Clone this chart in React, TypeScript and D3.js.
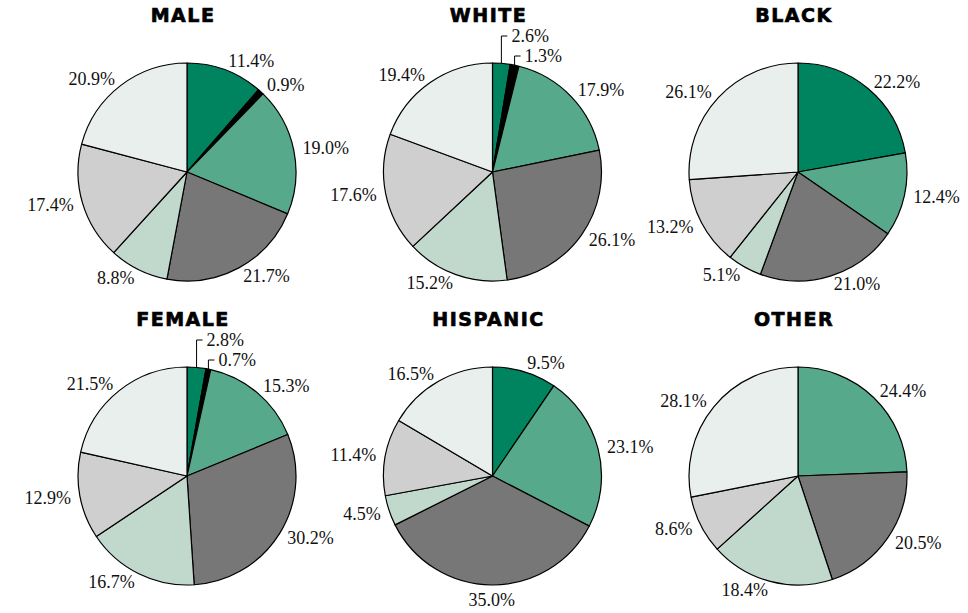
import * as d3 from "d3";

// Slice order (clockwise from 12 o'clock)
const categories = ["c1", "c2", "c3", "c4", "c5", "c6", "c7"];
const colors = ["#00845f", "#000000", "#56a98b", "#777777", "#c1d9cd", "#cfcfcf", "#e9efec"];

const groups = ["MALE", "WHITE", "BLACK", "FEMALE", "HISPANIC", "OTHER"];

const male = [11.4, 0.9, 19.0, 21.7, 8.8, 17.4, 20.9];
const white = [2.6, 1.3, 17.9, 26.1, 15.2, 17.6, 19.4];
const black = [22.2, 0, 12.4, 21.0, 5.1, 13.2, 26.1];
const female = [2.8, 0.7, 15.3, 30.2, 16.7, 12.9, 21.5];
const hispanic = [9.5, 0, 23.1, 35.0, 4.5, 11.4, 16.5];
const other = [0, 0, 24.4, 20.5, 18.4, 8.6, 28.1];

const seriesValues = [male, white, black, female, hispanic, other];

const W = 968;
const H = 613;
const R = 109;

const col = d3.scalePoint<number>().domain([0, 1, 2]).range([187, 798]);
const row = d3.scalePoint<number>().domain([0, 1]).range([172, 476]);

const pie = d3
  .pie<number>()
  .sort(null)
  .value((d) => d);

const arc = d3.arc<d3.PieArcDatum<number>>().innerRadius(0).outerRadius(R);

function PieChart({ title, values, cx, cy }: { title: string; values: number[]; cx: number; cy: number }) {
  const arcs = pie(values);
  const total = d3.sum(values);
  // small slices at the very top get a bracket leader line
  const leaders = arcs.filter((a) => a.value > 0 && a.value < 3 && (a.startAngle / (2 * Math.PI)) * 100 < 5);
  return (
    <g transform={`translate(${cx},${cy})`}>
      <text
        x={-4}
        y={-R - 41}
        textAnchor="middle"
        style={{ fontFamily: "DejaVu Sans", fontWeight: 700, fontSize: 19, letterSpacing: 1.5 }}
        stroke="#000"
        strokeWidth={0.7}
        fill="#000"
      >
        {title}
      </text>
      {arcs.map((a, i) =>
        a.value > 0 ? (
          <path key={categories[i]} d={arc(a) || ""} fill={colors[i]} stroke="#000" strokeWidth={1.2} strokeLinejoin="round" />
        ) : null
      )}
      {arcs.map((a, i) => {
        if (a.value <= 0) return null;
        const label = `${((a.value / total) * 100).toFixed(1)}%`;
        const mid = (a.startAngle + a.endAngle) / 2;
        const s = Math.sin(mid);
        const c = Math.cos(mid);
        const li = leaders.indexOf(a);
        const font = { fontFamily: "Liberation Serif", fontSize: 18 };
        if (li >= 0) {
          const px = R * s;
          const py = -R * c;
          const ly = -R - 7 - 20 * (leaders.length - 1 - li);
          return (
            <g key={categories[i]}>
              <path d={`M${px},${py}V${ly}H${px + 6}`} fill="none" stroke="#000" strokeWidth={1} />
              <text x={px + 10} y={ly} dominantBaseline="central" style={font} fill="#111">
                {label}
              </text>
            </g>
          );
        }
        const rr = R + 9;
        const x = rr * s;
        const y = -rr * c;
        const anchor = s > 0.25 ? "start" : s < -0.25 ? "end" : "middle";
        const dy = Math.abs(s) <= 0.25 ? (c > 0 ? -6 : 6) : 0;
        return (
          <text key={categories[i]} x={x} y={y + dy} textAnchor={anchor} dominantBaseline="central" style={font} fill="#111">
            {label}
          </text>
        );
      })}
    </g>
  );
}

export default function App() {
  return (
    <svg width={W} height={H} style={{ position: "absolute", left: 0, top: 0, background: "#fff" }}>
      {groups.map((g, i) => (
        <PieChart key={g} title={g} values={seriesValues[i]} cx={col(i % 3) || 0} cy={row(Math.floor(i / 3)) || 0} />
      ))}
    </svg>
  );
}
